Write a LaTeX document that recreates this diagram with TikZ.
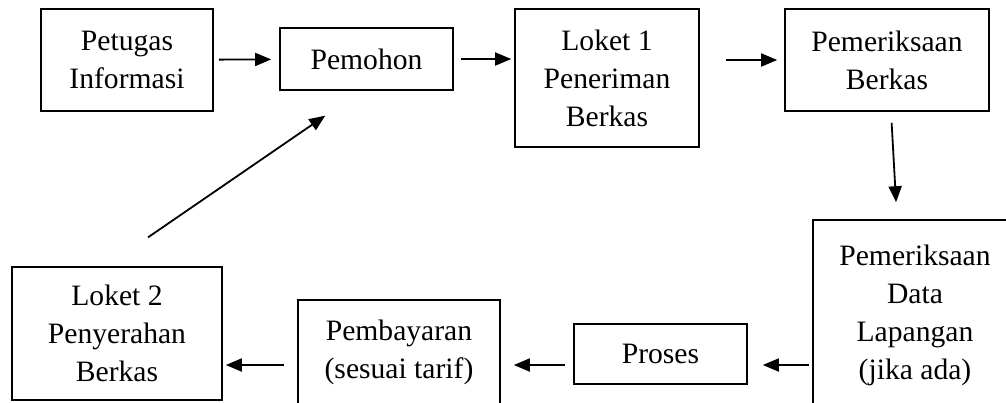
\documentclass[tikz,border=0pt]{standalone}
\usepackage{fontspec}
\setmainfont{Liberation Serif}
\usetikzlibrary{positioning,arrows.meta}

\begin{document}
\begin{tikzpicture}
            [
            x=0.5pt, y=-0.5pt,
            box/.style={draw,line width=0.8pt,align=center,inner sep=0pt,
                font=\fontsize{14.8}{19}\selectfont},
            edge/.style={-{Triangle[length=8pt,width=6.5pt]},line width=0.9pt}
            ]
        \path[use as bounding box, clip] (0,0) rectangle (1006,402);
        \node[box,minimum width=86pt,minimum height=51pt] (1) at (127,60) {Petugas\\Informasi};
        \node[box,minimum width=86.5pt,minimum height=31pt] (2) at (366.5,59) {Pemohon};
        \node[box,minimum width=92pt,minimum height=69pt] (3) at (607,78) {Loket 1\\Peneriman\\Berkas};
        \node[box,minimum width=102pt,minimum height=51pt] (4) at (887,60) {Pemeriksaan\\Berkas};
        \node[box,minimum width=102pt,minimum height=95pt] (5) at (915,315) {Pemeriksaan\\Data\\Lapangan\\(jika ada)};
        \node[box,minimum width=86.5pt,minimum height=30pt] (6) at (660.5,354) {Proses};
        \node[box,minimum width=101pt,minimum height=52pt] (7) at (399,352) {Pembayaran\\(sesuai tarif)};
        \node[box,minimum width=105pt,minimum height=66.5pt] (8) at (117,333.5) {Loket 2\\Penyerahan\\Berkas};
        \coordinate (r) at (0,365);
        \draw[edge,shorten <=2.5pt,shorten >=4pt] (1) -- (2);
        \draw[edge,shorten <=3.5pt,shorten >=1.5pt] (2.east) -- (2.east -| 3.west);
        \draw[edge,shorten <=13pt,shorten >=3.5pt] (3.east |- 4.west) -- (4.west);
        \draw[edge,shorten <=5.5pt,shorten >=8.5pt] ([xshift=2pt]4.south) -- ([xshift=-9pt]5.north);
        \draw[edge,shorten <=1.5pt,shorten >=7.5pt] (5.west |- r) -- (6.east |- r);
        \draw[edge,shorten <=4pt,shorten >=6.5pt] (6.west |- r) -- (7.east |- r);
        \draw[edge,shorten <=6.5pt,shorten >=1.5pt] (7.west |- r) -- (8.east |- r);
        \draw[edge,shorten <=25.5pt,shorten >=22pt] ([xshift=-5.5pt]8.north) -- ([xshift=-2.5pt]2.south);
        \end{tikzpicture}
\end{document}
